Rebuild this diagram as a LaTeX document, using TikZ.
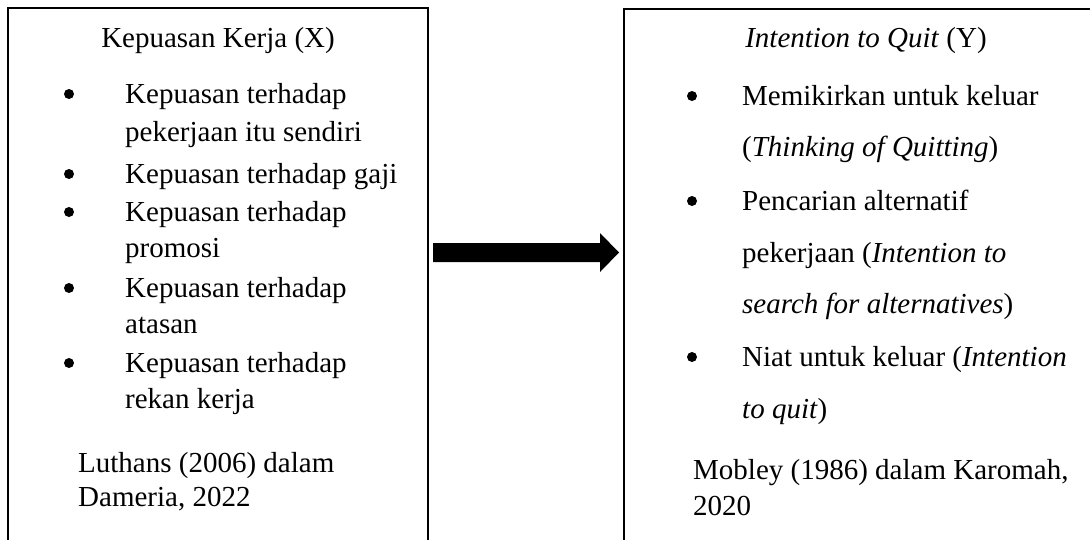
\documentclass[tikz,border=0pt]{standalone}
\usepackage{fontspec}
\setmainfont{Liberation Serif}
\usetikzlibrary{calc}

\tikzset{
  teks/.style={anchor=base west, inner sep=0pt, font=\fontsize{29}{35}\selectfont},
  judul/.style={teks, anchor=base},
  titik/.style={circle, fill, inner sep=0pt, minimum size=10pt},
  kotak/.style={line width=2.5pt},
}

\begin{document}
\begin{tikzpicture}[x=1pt,y=-1pt]
  \useasboundingbox (0,0) rectangle (1090,539);
  \clip (0,0) rectangle (1090,539);

  % Kotak variabel X (bawah terpotong)
  \coordinate (x-kiri) at (8,8);
  \coordinate (x-kanan) at (428,8);
  \draw[kotak] (x-kiri) ++(0,540) -- (x-kiri) -- (x-kanan) -- ++(0,540);

  % Kotak variabel Y (kanan dan bawah terpotong)
  \coordinate (y-kiri) at (624,9);
  \draw[kotak] (y-kiri) ++(0,540) -- (y-kiri) -- (1100,9);

  % Judul
  \node[judul] (judul-x) at (218,47) {Kepuasan Kerja (X)};
  \node[judul] (judul-y) at (866,47) {\textit{Intention to Quit} (Y)};

  % Indikator X
  \foreach \y in {103,183,221,297,372}
    \node[titik] (bx\y) at (69,\y-9) {};
  \foreach \y/\isi in {103/Kepuasan terhadap, 141/pekerjaan itu sendiri,
      183/Kepuasan terhadap gaji, 221/Kepuasan terhadap, 257/promosi,
      297/Kepuasan terhadap, 333/atasan, 372/Kepuasan terhadap, 408/rekan kerja}
    \node[teks] (x\y) at (125,\y) {\isi};

  % Indikator Y
  \foreach \y in {105,210,366}
    \node[titik] (by\y) at (692,\y-9) {};
  \foreach \y/\isi in {105/Memikirkan untuk keluar,
      156/(\textit{Thinking of Quitting}),
      210/Pencarian alternatif,
      262/pekerjaan (\textit{Intention to},
      313/\textit{search for alternatives}),
      366/Niat untuk keluar (\textit{Intention},
      418/\textit{to quit})}
    \node[teks] (y\y) at (742,\y) {\isi};

  % Sumber
  \node[teks] (sumber-x1) at (78,472) {Luthans (2006) dalam};
  \node[teks] (sumber-x2) at (78,506) {Dameria, 2022};
  \node[teks] (sumber-y1) at (693,479) {Mobley (1986) dalam Karomah,};
  \node[teks] (sumber-y2) at (693,515) {2020};

  % Panah X ke Y
  \coordinate (pangkal) at ($(x-kanan)+(5,244.5)$);
  \coordinate (ujung) at ($(y-kiri)+(-5,243.5)$);
  \fill ($(pangkal)+(0,-9.5)$) -- ($(ujung)+(-19,-9.5)$) -- ($(ujung)+(-19,-19.5)$)
    -- (ujung) -- ($(ujung)+(-19,19.5)$) -- ($(ujung)+(-19,9.5)$)
    -- ($(pangkal)+(0,9.5)$) -- cycle;
\end{tikzpicture}
\end{document}
